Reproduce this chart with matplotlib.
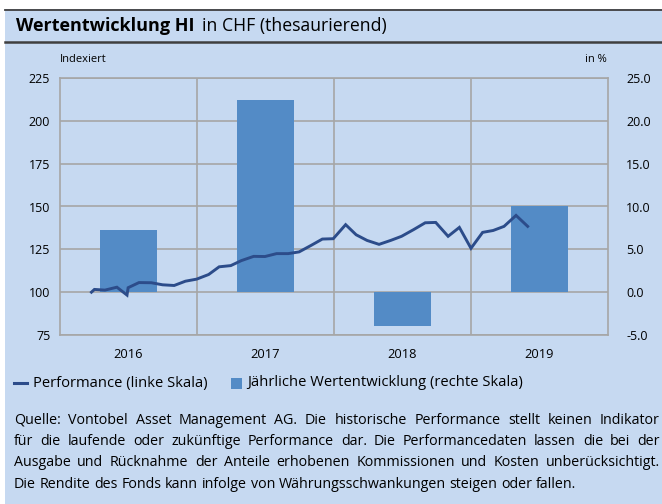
import numpy as np
import pandas as pd
import matplotlib.pyplot as plt
from matplotlib.patches import Rectangle
from matplotlib.lines import Line2D

plt.rcParams['font.family'] = ['Open Sans', 'DejaVu Sans']

# Daten
years = ['2016', '2017', '2018', '2019']
annual_pct = [7.2, 22.4, -4.0, 10.0]

perf_dates = ['2016-03-24', '2016-04-01', '2016-04-29', '2016-05-31', '2016-06-27',
              '2016-06-30', '2016-07-29', '2016-08-31', '2016-09-30', '2016-10-31',
              '2016-11-30', '2016-12-30', '2017-01-31', '2017-02-28', '2017-03-31',
              '2017-04-28', '2017-05-31', '2017-06-30', '2017-07-31', '2017-08-31',
              '2017-09-29', '2017-10-31', '2017-11-30', '2017-12-29', '2018-01-31',
              '2018-02-28', '2018-03-29', '2018-04-30', '2018-05-31', '2018-06-29',
              '2018-07-31', '2018-08-31', '2018-09-28', '2018-10-31', '2018-11-30',
              '2018-12-31', '2019-01-31', '2019-02-28', '2019-03-29', '2019-04-30',
              '2019-05-31']
perf_index = [100.0, 101.6, 101.2, 102.9, 98.3,
              102.6, 105.6, 105.5, 104.3, 103.9,
              106.4, 107.6, 110.3, 114.8, 115.5,
              118.4, 120.9, 120.8, 122.5, 122.5,
              123.5, 127.3, 131.0, 131.2, 139.4,
              133.5, 130.2, 127.9, 130.2, 132.6,
              136.5, 140.5, 140.7, 132.6, 137.8,
              125.6, 134.9, 136.0, 138.4, 144.8,
              138.4]

left_ticks = [75, 100, 125, 150, 175, 200, 225]
right_ticks = [-5, 0, 5, 10, 15, 20, 25]

title_bold = 'Wertentwicklung HI'
title_rest = 'in CHF (thesaurierend)'
legend_labels = ['Performance (linke Skala)', 'Jährliche Wertentwicklung (rechte Skala)']
footer = ['Quelle: Vontobel Asset Management AG. Die historische Performance stellt keinen Indikator',
          'für die laufende oder zukünftige Performance dar. Die Performancedaten lassen die bei der',
          'Ausgabe und Rücknahme der Anteile erhobenen Kommissionen und Kosten unberücksichtigt.',
          'Die Rendite des Fonds kann infolge von Währungsschwankungen steigen oder fallen.']

# Farben
bg = '#C6D9F1'
bar_col = '#538BC6'
line_col = '#2C4C8A'
grid_col = '#A6A6A6'
dark = '#3F3F3F'

W, H = 662, 504
fig = plt.figure(figsize=(W / 100, H / 100), dpi=100)
fig.patch.set_facecolor('white')


def fx(px):
    return px / W


def fy(py):
    return 1 - py / H


# Hintergrund und Titelband
fig.add_artist(Rectangle((fx(5), 0), 1 - fx(5), fy(9), transform=fig.transFigure,
                         facecolor=bg, edgecolor='none', zorder=0))
fig.add_artist(Line2D([fx(5), 1], [fy(9.5)] * 2, color=dark, lw=1.3))
fig.add_artist(Line2D([fx(5), 1], [fy(42)] * 2, color=dark, lw=1.8))

renderer = fig.canvas.get_renderer()

t1 = fig.text(fx(16), fy(26), title_bold, fontsize=13.0, fontweight='bold',
              va='center', ha='left', color='black')
w1 = t1.get_window_extent(renderer).width
fig.text(fx(16 + w1 + 7), fy(26), title_rest, fontsize=12.7, va='center', ha='left',
         color='black')

# Achsen
ax = fig.add_axes([fx(60), fy(335), (608 - 60) / W, (335 - 78) / H])
ax.set_facecolor('none')
ax2 = ax.twinx()

x_bar = np.arange(len(years)) + 0.5
ax.bar(x_bar, annual_pct, width=0.42, color=bar_col, zorder=2)
ax.set_xlim(0, len(years))
ax.set_ylim(right_ticks[0], right_ticks[-1])
ax.set_yticks(right_ticks)
ax.set_yticklabels([f'{v:.1f}' for v in right_ticks])
ax.yaxis.set_ticks_position('right')
ax.set_xticks(x_bar)
ax.set_xticklabels(years)
ax.set_xticks(np.arange(1, len(years)), minor=True)
ax.grid(axis='y', which='major', color=grid_col, lw=1.2, zorder=0)
ax.grid(axis='x', which='minor', color=grid_col, lw=1.2, zorder=0)
ax.set_axisbelow(True)
ax.tick_params(which='both', length=0)
ax.tick_params(axis='y', pad=13, labelsize=9)
ax.tick_params(axis='x', pad=9, labelsize=9.3)
for s in ax.spines.values():
    s.set_color(grid_col)
    s.set_linewidth(1.2)

t = pd.to_datetime(perf_dates)
x_line = (t.year - int(years[0])) + t.dayofyear / np.where(t.is_leap_year, 366, 365)
ax2.plot(x_line, perf_index, color=line_col, lw=2.1, solid_joinstyle='miter', zorder=3)
ax2.set_ylim(left_ticks[0], left_ticks[-1])
ax2.set_yticks(left_ticks)
ax2.yaxis.set_ticks_position('left')
ax2.tick_params(length=0, pad=7, labelsize=9)
for s in ax2.spines.values():
    s.set_visible(False)

fig.text(fx(60), fy(60), 'Indexiert', fontsize=8, ha='left', va='center')
fig.text(fx(607), fy(60), 'in %', fontsize=8, ha='right', va='center')

# Legende
ly = fy(383)
fig.add_artist(Line2D([fx(14), fx(27)], [ly, ly], color=line_col, lw=2.2))
fig.text(fx(33), ly, legend_labels[0], fontsize=10.6, ha='left', va='center')
fig.add_artist(Rectangle((fx(231), fy(389)), fx(11), 11 / H, transform=fig.transFigure,
                         facecolor=bar_col, edgecolor='none'))
fig.text(fx(247), ly, legend_labels[1], fontsize=10.6, ha='left', va='center')

# Fusszeile, Blocksatz
x0, x1 = 14, 660
for i, line in enumerate(footer):
    yy = fy(420 + i * 21.5)
    words = line.split(' ')
    objs = [fig.text(fx(x0), yy, w, fontsize=10.3, ha='left', va='center') for w in words]
    widths = [o.get_window_extent(renderer).width for o in objs]
    if i < len(footer) - 1:
        gap = (x1 - x0 - sum(widths)) / (len(words) - 1)
    else:
        gap = objs[0].get_window_extent(renderer).height * 0.25
    pos = x0
    for o, w in zip(objs, widths):
        o.set_x(fx(pos))
        pos += w + gap

fig.savefig('out.png', dpi=100)
